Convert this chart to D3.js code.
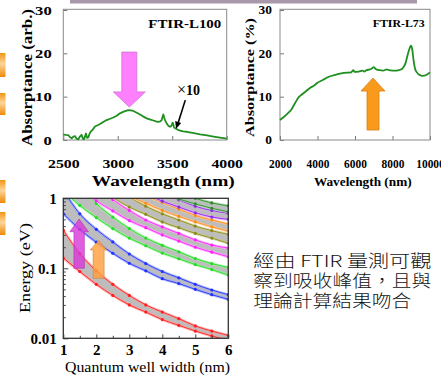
<!DOCTYPE html>
<html><head><meta charset="utf-8">
<script src="https://cdn.jsdelivr.net/npm/d3@7"></script>
<style>html,body{margin:0;padding:0;background:#fff;overflow:hidden}</style>
</head><body>
<svg id="c" width="441" height="376" xmlns="http://www.w3.org/2000/svg"></svg>
<script>
// ---------- data: FTIR-L100 ----------
const l100Wave = [2500,2520,2546,2560,2577,2592,2607,2622,2638,2652,2668,2680,2690,2700,2708,2718,2730,2740,2751,2770,2791,2815,2837,2870,2898,2930,2959,2990,3020,3060,3097,3120,3143,3175,3204,3235,3265,3300,3327,3350,3372,3390,3403,3411,3418,3426,3434,3450,3464,3475,3485,3495,3504,3510,3516,3535,3556,3600,3633,3700,3755,3820,3878,3940,4000];
const l100Abs  = [1.3,1.2,1.1,0.7,0.4,0.8,0.9,0.3,0.15,0.8,1.2,0.3,0.15,0.9,1.5,0.5,0.6,1.4,1.9,2.4,3.1,3.4,3.7,4.2,4.6,4.9,5.2,5.6,6.15,6.6,6.9,6.85,6.7,6.3,5.9,5.4,5.0,4.7,4.5,4.3,4.2,4.3,4.6,5.3,5.9,5.2,4.6,3.8,3.3,3.1,3.1,3.4,4.0,3.6,2.9,2.6,2.3,2.0,1.9,1.6,1.3,1.05,0.8,0.55,0.3];
// ---------- data: FTIR-L73 ----------
const l73Wave = [2000,2200,2400,2600,2800,3000,3200,3400,3600,3800,4000,4300,4600,5000,5400,5800,5900,6000,6200,6400,6500,6600,6800,6900,7000,7100,7300,7500,7700,7800,8000,8200,8400,8550,8700,8800,8900,8980,9050,9120,9200,9300,9450,9600,9800,10000];
const l73Abs  = [4.6,5.3,6.1,7.0,8.5,9.9,10.6,11.3,12.0,12.5,13.2,13.9,14.6,15.1,15.5,15.6,16.1,15.7,15.8,16.0,15.8,16.1,16.3,16.5,16.8,16.4,16.1,16.0,16.3,16.1,16.0,16.0,16.2,16.6,17.8,19.5,21.0,21.8,21.0,18.5,16.5,15.6,15.0,14.8,15.0,15.6];
// ---------- data: energy vs well width ----------
const wellWidth = [1,1.5,2,2.5,3,3.5,4,4.5,5,5.5,6];
const redLo     = [0.14,0.090,0.059,0.041,0.030,0.0237,0.0185,0.0153,0.0127,0.0108,0.0093];
const redHi     = [0.35,0.162,0.092,0.059,0.041,0.030,0.0237,0.0191,0.0150,0.0127,0.011];
const blueLo    = [0.60,0.36,0.236,0.164,0.118,0.092,0.071,0.0605,0.050,0.042,0.036];
const blueHi    = [1.3,0.60,0.36,0.238,0.160,0.117,0.090,0.073,0.059,0.049,0.042];
const greenLo   = [1.26,0.79,0.53,0.37,0.27,0.21,0.165,0.137,0.113,0.096,0.080];
const greenHi   = [2.8,1.46,0.84,0.54,0.37,0.27,0.213,0.172,0.138,0.117,0.103];
const magentaLo = [2.2,1.42,0.92,0.66,0.48,0.38,0.30,0.245,0.20,0.17,0.146];
const magentaHi = [5,2.6,1.5,0.96,0.67,0.49,0.39,0.315,0.255,0.215,0.195];
const oliveLo   = [3.5,2.25,1.48,1.03,0.75,0.59,0.46,0.38,0.315,0.27,0.228];
const oliveHi   = [8,4,2.3,1.5,1.04,0.77,0.60,0.49,0.40,0.345,0.305];
const orangeLo  = [5,3.2,2.1,1.48,1.08,0.85,0.67,0.55,0.46,0.39,0.34];
const orangeHi  = [12,5.8,3.3,2.15,1.5,1.1,0.87,0.70,0.57,0.49,0.43];
const purpleLo  = [7,4.4,2.9,2.0,1.47,1.16,0.91,0.75,0.62,0.54,0.50];
const purpleHi  = [17,8,4.5,2.9,2.0,1.48,1.17,0.95,0.77,0.67,0.61];
const dkgreenLo = [9,5.8,3.8,2.6,1.92,1.52,1.19,0.98,0.83,0.72,0.64];
const dkgreenHi = [22,10.4,5.9,3.8,2.6,1.93,1.52,1.23,1.0,0.86,0.78];
// ---------- ticks / labels ----------
const l100XTicks = [2500,3000,3500,4000];
const l73XTicks = [2000,4000,6000,8000,10000];
const absYTicks = [0,10,20,30];
const eYTicks = [0.01,0.1,1];
const eYTickLabels = ["0.01","0.1","1"];
const wXTicks = [1,2,3,4,5,6];
const noteLines = ["經由 FTIR 量測可觀","察到吸收峰值，且與","理論計算結果吻合"];

const SERIF = "Liberation Serif, Times New Roman, serif";
const svg = d3.select("#c");
svg.append("rect").attr("width",441).attr("height",376).attr("fill","#fff");

// decorations
svg.append("rect").attr("x",70).attr("y",0).attr("width",347).attr("height",3.5).attr("fill","#a898a9");
const defs = svg.append("defs");
const g1 = defs.append("linearGradient").attr("id","og").attr("x1",0).attr("y1",0).attr("x2",0).attr("y2",1);
g1.append("stop").attr("offset","0%").attr("stop-color","#f39412");
g1.append("stop").attr("offset","45%").attr("stop-color","#fcd59a");
g1.append("stop").attr("offset","100%").attr("stop-color","#f08a08");
[[53,24],[93,22],[180,23],[212,23]].forEach(([y,h])=>{
  svg.append("rect").attr("x",0).attr("y",y).attr("width",5.5).attr("height",h).attr("fill","url(#og)");
});

function fit(sel,w){ sel.attr("textLength",w).attr("lengthAdjust","spacingAndGlyphs"); }
function arrowPath(cx,yTail,yBase,yTip,hs,hh){
  return `M${cx-hs},${yTail}L${cx-hs},${yBase}L${cx-hh},${yBase}L${cx},${yTip}L${cx+hh},${yBase}L${cx+hs},${yBase}L${cx+hs},${yTail}Z`;
}
function styleTicks(g, size, bold, digitW){
  g.attr("font-family",SERIF);
  g.select(".domain").remove();
  g.selectAll(".tick line").attr("stroke","#777");
  g.selectAll("text").attr("font-family",SERIF).attr("font-weight",bold?"bold":"normal")
    .attr("font-size",size).attr("fill","#000")
    .each(function(){ if(digitW){ const t=d3.select(this); fit(t, t.text().length*digitW);} });
}

// ================= Plot 1: FTIR-L100 =================
{
  const x = d3.scaleLinear([2500,4000],[63.3,226.7]);
  const y = d3.scaleLinear([0,30],[140,10]);
  const g = svg.append("g");
  g.append("g").attr("transform","translate(63.3,0)")
    .call(d3.axisLeft(y).tickValues(absYTicks).tickSize(-4).tickPadding(11.6).tickFormat(d3.format("d")))
    .call(s=>styleTicks(s,13,true,8.3));
  g.append("g").attr("transform","translate(0,140)")
    .call(d3.axisBottom(x).tickValues(l100XTicks).tickSize(-4).tickPadding(19.4).tickFormat(d3.format("d")))
    .call(s=>styleTicks(s,12.5,true,7.9));
  g.append("rect").attr("x",63.3).attr("y",9.3).attr("width",163.4).attr("height",130.7)
    .attr("fill","none").attr("stroke","#8a8a8a").attr("stroke-width",1);
  const line = d3.line().x((d,i)=>x(l100Wave[i])).y(d=>y(d));
  g.append("path").datum(l100Abs).attr("d",line).attr("fill","none").attr("stroke","#1f8f1f").attr("stroke-width",1.8).attr("stroke-linejoin","round");
  const cx = x(3106);
  g.append("path").attr("d",arrowPath(cx,y(20.3),y(11.1),y(7.6),7.5,16))
    .attr("fill","#ff80ff").attr("stroke","#d070d0").attr("stroke-width",0.8);
  const tx = g.append("text").attr("x",177).attr("y",95).attr("font-family",SERIF).attr("font-size",14);
  tx.append("tspan").attr("font-size",16).text("×");
  tx.append("tspan").attr("font-weight","bold").text("10");
  const x1=x(3620), y1=y(9.2), x2=x(3535), y2=y(2.6);
  g.append("line").attr("x1",x1).attr("y1",y1).attr("x2",x2+1.5).attr("y2",y2-4).attr("stroke","#000").attr("stroke-width",1.6);
  const ang = Math.atan2(y2-y1,x2-x1);
  const hl=7, hw=3.2;
  const bx = x2-hl*Math.cos(ang), by = y2-hl*Math.sin(ang);
  g.append("path").attr("d",`M${x2},${y2}L${bx+hw*Math.sin(ang)},${by-hw*Math.cos(ang)}L${bx-hw*Math.sin(ang)},${by+hw*Math.cos(ang)}Z`).attr("fill","#000");
  fit(g.append("text").attr("x",148.3).attr("y",27.5).attr("font-family",SERIF).attr("font-weight","bold").attr("font-size",13).text("FTIR-L100"),73);
  fit(g.append("text").attr("x",163.3).attr("y",185.5).attr("text-anchor","middle").attr("font-family",SERIF).attr("font-weight","bold").attr("font-size",14.5).text("Wavelength (nm)"),143);
  fit(g.append("text").attr("transform","translate(32,77.5) rotate(-90)").attr("text-anchor","middle").attr("font-family",SERIF).attr("font-weight","bold").attr("font-size",14.5).text("Absorptance (arb.)"),137);
}

// ================= Plot 2: FTIR-L73 =================
{
  const x = d3.scaleLinear([2000,10000],[280,430]);
  const y = d3.scaleLinear([0,30],[140,10]);
  const g = svg.append("g");
  g.append("g").attr("transform","translate(280,0)")
    .call(d3.axisLeft(y).tickValues(absYTicks).tickSize(-4).tickPadding(8).tickFormat(d3.format("d")))
    .call(s=>styleTicks(s,11.5,true,6.7));
  g.append("g").attr("transform","translate(0,140)")
    .call(d3.axisBottom(x).tickValues(l73XTicks).tickSize(-4).tickPadding(20).tickFormat(d3.format("d")))
    .call(s=>styleTicks(s,11.5,true,5.7));
  g.append("rect").attr("x",280).attr("y",9.3).attr("width",150).attr("height",130.7)
    .attr("fill","none").attr("stroke","#8a8a8a").attr("stroke-width",1);
  const line = d3.line().x((d,i)=>x(l73Wave[i])).y(d=>y(d)).curve(d3.curveMonotoneX);
  g.append("path").datum(l73Abs).attr("d",line).attr("fill","none").attr("stroke","#1f8f1f").attr("stroke-width",1.8).attr("stroke-linejoin","round");
  const cx = x(6960);
  g.append("path").attr("d",arrowPath(cx,y(2.3),y(11.3),y(14.3),6,12))
    .attr("fill","#f99a1c").attr("stroke","#d98010").attr("stroke-width",0.8);
  fit(g.append("text").attr("x",372.7).attr("y",27).attr("font-family",SERIF).attr("font-weight","bold").attr("font-size",10.5).text("FTIR-L73"),52);
  fit(g.append("text").attr("x",362.8).attr("y",185.5).attr("text-anchor","middle").attr("font-family",SERIF).attr("font-weight","bold").attr("font-size",13.5).text("Wavelength (nm)"),97.7);
  fit(g.append("text").attr("transform","translate(253.5,77.5) rotate(-90)").attr("text-anchor","middle").attr("font-family",SERIF).attr("font-weight","bold").attr("font-size",12.5).text("Absorptance (%)"),119);
}

// ================= Plot 3: Energy vs well width =================
{
  const x = d3.scaleLinear([1,6],[63.3,228.3]);
  const y = d3.scaleLog([0.01,1],[338.3,198.3]);
  const g = svg.append("g");
  defs.append("clipPath").attr("id","clipE").append("rect").attr("x",63.3).attr("y",198.3).attr("width",165).attr("height",140);
  const levels = [
    {c:"#ff1f1f", h:"#ff9a9a", lo:redLo, hi:redHi},
    {c:"#2233ff", h:"#9aa4ff", lo:blueLo, hi:blueHi},
    {c:"#22dd22", h:"#9cf09c", lo:greenLo, hi:greenHi},
    {c:"#ff22ff", h:"#ff9cff", lo:magentaLo, hi:magentaHi},
    {c:"#8c8c1e", h:"#c8c890", lo:oliveLo, hi:oliveHi},
    {c:"#ff8c1a", h:"#ffc890", lo:orangeLo, hi:orangeHi},
    {c:"#8a2be2", h:"#e09cff", lo:purpleLo, hi:purpleHi},
    {c:"#2e8b2e", h:"#9ccf9c", lo:dkgreenLo, hi:dkgreenHi}
  ];
  const pg = g.append("g").attr("clip-path","url(#clipE)");
  const area = d3.area().x((d,i)=>x(wellWidth[i])).y0(d=>y(d[0])).y1(d=>y(d[1])).curve(d3.curveMonotoneX);
  const line = d3.line().x((d,i)=>x(wellWidth[i])).y(d=>y(d)).curve(d3.curveMonotoneX);
  levels.forEach(L=>{
    pg.append("path").datum(d3.zip(L.lo,L.hi)).attr("d",area).attr("fill","#bdbdbd");
  });
  levels.forEach(L=>{
    [L.lo,L.hi].forEach(s=>{
      pg.append("path").datum(s).attr("d",line).attr("fill","none").attr("stroke",L.h).attr("stroke-width",2.8).attr("opacity",0.7);
      pg.append("path").datum(s).attr("d",line).attr("fill","none").attr("stroke",L.c).attr("stroke-width",0.9);
      pg.selectAll(null).data(s).join("circle").attr("cx",(d,i)=>x(wellWidth[i])).attr("cy",d=>y(d)).attr("r",1.6).attr("fill",L.c);
    });
  });
  pg.append("path").attr("d",arrowPath(x(1.48),y(0.1),y(0.333),y(0.506),5.2,9.3))
    .attr("fill","#d93ad9").attr("fill-opacity",0.82).attr("stroke","#b030b0").attr("stroke-width",0.6);
  pg.append("path").attr("d",arrowPath(x(2.07),y(0.072),y(0.183),y(0.25),5.5,8.3))
    .attr("fill","#ffa040").attr("fill-opacity",0.82).attr("stroke","#d08030").attr("stroke-width",0.6);
  const minorY = [0.02,0.03,0.04,0.05,0.06,0.07,0.08,0.09,0.2,0.3,0.4,0.5,0.6,0.7,0.8,0.9];
  g.append("g").attr("transform","translate(63.3,0)")
    .call(d3.axisLeft(y).tickValues(minorY).tickSize(-2.5).tickFormat(""))
    .call(s=>{s.select(".domain").remove(); s.selectAll("line").attr("stroke","#444");});
  g.append("g").attr("transform","translate(63.3,0)")
    .call(d3.axisLeft(y).tickValues(eYTicks).tickSize(-5).tickPadding(6.6).tickFormat((d,i)=>eYTickLabels[i]))
    .call(s=>{styleTicks(s,15,true,0); s.selectAll("line").attr("stroke","#444");});
  const minorX = [1.5,2.5,3.5,4.5,5.5];
  g.append("g").attr("transform","translate(0,338.3)")
    .call(d3.axisBottom(x).tickValues(minorX).tickSize(-2.5).tickFormat(""))
    .call(s=>{s.select(".domain").remove(); s.selectAll("line").attr("stroke","#444");});
  g.append("g").attr("transform","translate(0,338.3)")
    .call(d3.axisBottom(x).tickValues(wXTicks).tickSize(-4).tickPadding(6).tickFormat(d3.format("d")))
    .call(s=>{styleTicks(s,15,true,0); s.selectAll("line").attr("stroke","#444");});
  g.append("rect").attr("x",63.3).attr("y",198.3).attr("width",165).attr("height",140)
    .attr("fill","none").attr("stroke","#333").attr("stroke-width",1.3);
  fit(g.append("text").attr("x",147.5).attr("y",371.5).attr("text-anchor","middle").attr("font-family",SERIF).attr("font-size",15.5).text("Quantum well width (nm)"),165);
  fit(g.append("text").attr("transform","translate(29.5,268) rotate(-90)").attr("text-anchor","middle").attr("font-family",SERIF).attr("font-size",15.5).text("Energy (eV)"),90);
}

// ================= note text =================
noteLines.forEach((t,i)=>{
  fit(svg.append("text").attr("x",253.3).attr("y",266.5+i*20).attr("font-family","Noto Sans CJK TC, Noto Sans CJK SC, sans-serif")
    .attr("font-size",16.5).attr("font-weight",300).attr("fill","#111").text(t), i===2 ? 158 : 178);
});
</script>
</body></html>
